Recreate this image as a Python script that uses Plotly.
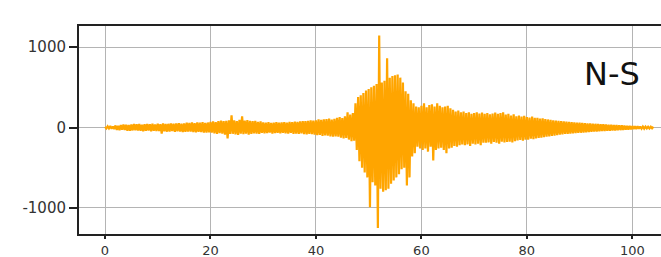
import numpy as np
import plotly.graph_objects as go

# Seismogram, N-S component: sampled every 0.25 s from 0 s to 104 s
t_start = 0.0
dt = 0.25
amplitude = [
    8, -12, 15, -10, 18, -14, 12, -20,
    25, -30, 22, -35, 30, -28, 38, -32,
    35, -40, 30, -42, 38, -36, 44, -34,
    40, -38, 45, -42, 36, -46, 42, -40,
    44, -38, 40, -48, 46, -42, 38, -45,
    48, -44, 42, -75, 50, -46, 44, -52,
    46, -50, 52, -44, 48, -55, 50, -48,
    55, -50, 48, -58, 52, -54, 60, -50,
    58, -52, 62, -56, 54, -60, 65, -55,
    60, -58, 66, -62, 58, -64, 62, -60,
    70, -65, 75, -72, 68, -78, 80, -70,
    85, -75, 78, -90, 82, -135, 88, -80,
    150, -78, 90, -85, 80, -92, 95, -76,
    140, -82, 86, -75, 92, -88, 84, -80,
    78, -72, 82, -76, 70, -80, 75, -68,
    65, -72, 60, -70, 68, -64, 58, -75,
    62, -70, 66, -68, 60, -74, 64, -66,
    68, -72, 62, -76, 70, -68, 66, -78,
    72, -75, 70, -80, 76, -74, 80, -82,
    78, -85, 82, -80, 88, -84, 85, -90,
    90, -95, 100, -92, 96, -105, 102, -98,
    105, -100, 110, -112, 98, -115, 108, -110,
    120, -115, 130, -125, 118, -135, 140, -130,
    190, -150, 160, -170, 180, -165, 300, -280,
    380, -420, 400, -500, 430, -560, 460, -620,
    480, -990, 500, -680, 520, -720, 540, -1250,
    1143, -760, 560, -800, 580, -780, 860, -760,
    620, -700, 640, -660, 650, -620, 660, -580,
    620, -520, 560, -500, 450, -720, 420, -620,
    340, -360, 300, -320, 260, -240, 250, -260,
    270, -280, 300, -260, 250, -300, 280, -240,
    290, -410, 260, -280, 300, -260, 270, -250,
    250, -280, 260, -320, 270, -260, 240, -250,
    220, -230, 200, -240, 210, -220, 190, -210,
    200, -220, 180, -210, 190, -230, 170, -200,
    180, -210, 190, -200, 175, -220, 185, -190,
    170, -190, 180, -185, 165, -200, 175, -180,
    185, -190, 170, -200, 180, -175, 190, -185,
    160, -180, 170, -175, 150, -185, 165, -170,
    140, -160, 150, -155, 135, -165, 145, -150,
    130, -150, 125, -140, 135, -145, 120, -135,
    120, -130, 110, -125, 115, -120, 105, -115,
    100, -110, 95, -105, 90, -100, 85, -95,
    82, -88, 78, -85, 75, -80, 72, -78,
    70, -75, 68, -72, 65, -70, 62, -68,
    60, -65, 58, -62, 55, -60, 52, -58,
    50, -55, 48, -52, 46, -50, 44, -48,
    42, -45, 40, -44, 38, -42, 36, -40,
    35, -38, 32, -36, 30, -34, 28, -32,
    26, -30, 24, -28, 22, -25, 20, -23,
    18, -20, 16, -18, 15, -16, 13, -15,
    12, -14, 11, -12, 10, -11, 9, -10,
    8,
]
time = t_start + dt * np.arange(len(amplitude))

x_ticks = [0, 20, 40, 60, 80, 100]
y_ticks = [-1000, 0, 1000]
component_label = "N-S"

fig = go.Figure()
fig.add_trace(go.Scatter(
    x=time, y=amplitude, mode="lines",
    line=dict(color="#FFA500", width=2.2, simplify=False),
    hoverinfo="skip", showlegend=False,
))

fig.add_annotation(
    text=component_label, x=0.915, y=0.77, xref="paper", yref="paper",
    showarrow=False, xanchor="center", yanchor="middle",
    font=dict(family="DejaVu Sans", size=32, color="#111111"),
)

y_font = dict(family="DejaVu Sans", size=15, color="#333333")
x_font = dict(family="DejaVu Sans", size=13, color="#333333")
fig.update_layout(
    width=661, height=257,
    margin=dict(l=79, r=0, t=26, b=23, autoexpand=False),
    paper_bgcolor="white", plot_bgcolor="white",
    xaxis=dict(
        range=[-4.93, 105.44], tickvals=x_ticks, ticktext=[str(v) for v in x_ticks],
        showgrid=True, gridcolor="#b4b4b4", gridwidth=1, zeroline=False,
        showline=True, linecolor="#222222", linewidth=2, mirror=True,
        ticks="outside", ticklen=3, tickcolor="#222222", tickwidth=1.5,
        tickfont=x_font, automargin=False,
    ),
    yaxis=dict(
        range=[-1324, 1262], tickvals=y_ticks, ticktext=[str(v) for v in y_ticks],
        showgrid=True, gridcolor="#b4b4b4", gridwidth=1, zeroline=False,
        showline=True, linecolor="#222222", linewidth=2, mirror=False,
        ticks="outside", ticklen=8, tickcolor="#222222", tickwidth=1.5,
        tickfont=y_font, automargin=False,
    ),
)

fig.write_html(
    "out.html",
    config={"displayModeBar": False},
    post_script="document.body.style.margin='0';document.body.style.overflow='hidden';",
)
